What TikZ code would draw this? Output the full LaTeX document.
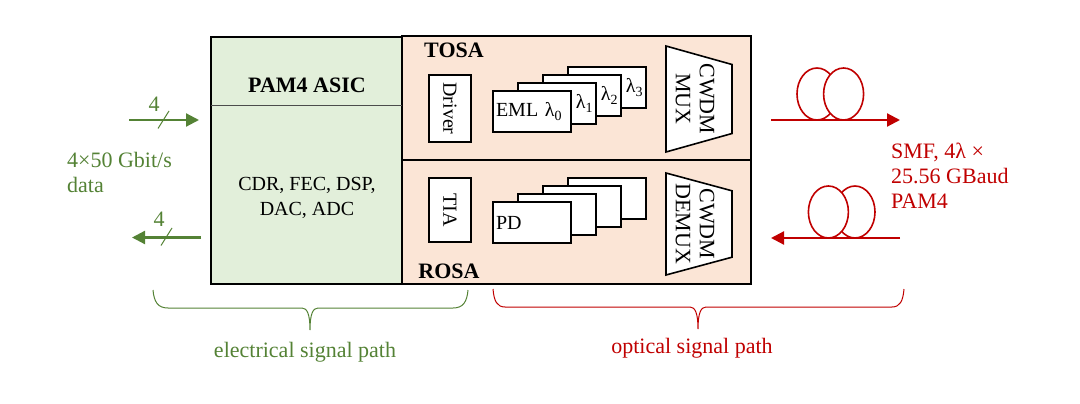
\documentclass[tikz,border=0pt]{standalone}
\usepackage{fontspec}
\setmainfont{Liberation Serif}
\usepackage{tikz}
\usetikzlibrary{shapes,arrows.meta,positioning}

\definecolor{asicgreen}{HTML}{E2EFDA}
\definecolor{osapeach}{HTML}{FBE5D6}
\definecolor{elecgreen}{HTML}{548235}
\definecolor{optred}{HTML}{C00000}

\begin{document}
\begin{tikzpicture}[x=1pt, y=-1pt, font=\fontsize{20}{25}\selectfont, >={Triangle[length=13pt, width=13pt]}]

    % Define block styles
    \tikzstyle{osa} = [draw, line width=1.8pt, fill=osapeach, minimum width=349pt, minimum height=124pt, inner sep=0pt, outer sep=0pt]
    \tikzstyle{asic} = [draw, line width=2.6pt, fill=asicgreen, minimum width=191pt, minimum height=247pt, inner sep=0pt]
    \tikzstyle{drv} = [draw, line width=1.6pt, fill=white, minimum height=42pt, inner sep=0pt, rotate=-90]
    \tikzstyle{stack} = [draw, line width=1.6pt, fill=white, minimum width=78pt, minimum height=41pt, inner sep=0pt, text width=72pt]
    \tikzstyle{wdm} = [draw, line width=1.6pt, fill=white, trapezium, trapezium stretches=true, trapezium angle=75, minimum height=66pt, inner sep=2pt, rotate=-90]
    \tikzstyle{wdmtext} = [rotate=-90, align=center, inner sep=0pt, font=\fontsize{22}{24}\selectfont]
    \tikzstyle{fibre} = [draw=optred, line width=1.6pt, fill=white, ellipse, minimum width=40pt, minimum height=52pt, inner sep=0pt]
    \tikzstyle{elec} = [line width=2.2pt, draw=elecgreen]
    \tikzstyle{opt} = [line width=2.2pt, draw=optred]
    \tikzstyle{slash} = [line width=1pt, draw=elecgreen]
    \tikzstyle{elecbrace} = [line width=1pt, draw=elecgreen]
    \tikzstyle{optbrace} = [line width=1pt, draw=optred]
    \tikzstyle{bold} = [font=\fontsize{22}{25}\selectfont\bfseries]
    \tikzstyle{caption} = [font=\fontsize{22}{25}\selectfont]

    \useasboundingbox (0,0) rectangle (1080,404);

    % OSA blocks
    \node[osa] (tosa) at (576.5,98) {};
    \node[osa, below=0pt of tosa] (rosa) {};
    \node[bold] (tosalabel) at (454,50) {TOSA};
    \node[bold] (rosalabel) at (449,271) {ROSA};

    % ASIC
    \node[asic] (asicbox) at (306.5,160.5) {};
    \coordinate (divl) at (211,106);
    \coordinate (divr) at (402,106);
    \draw[line width=1pt, black!70] (divl) -- (divr);
    \node[bold] (asictitle) at (307,85) {PAM4 ASIC};
    \node[align=center] (asictext) at (307,198) {CDR, FEC, DSP,\\DAC, ADC};

    % Driver and TIA
    \node[drv, minimum width=67pt] (driver) at (450,108.5) {Driver};
    \node[drv, minimum width=64pt] (tia) at (450,210) {TIA};

    % EML stack
    \node[stack, align=right] (eml3) at (607,87.5) {λ\textsubscript{3}};
    \node[stack, align=right] (eml2) at ([shift={(-25,8)}]eml3) {λ\textsubscript{2}};
    \node[stack, align=right] (eml1) at ([shift={(-25,8)}]eml2) {λ\textsubscript{1}};
    \node[stack, align=left] (eml0) at ([shift={(-25,8)}]eml1) {\raisebox{-2pt}{EML λ\textsubscript{0}}};

    % PD stack
    \node[stack] (pd3) at (607,198.5) {};
    \node[stack] (pd2) at ([shift={(-25,8)}]pd3) {};
    \node[stack] (pd1) at ([shift={(-25,8)}]pd2) {};
    \node[stack, align=left] (pd0) at ([shift={(-25,8)}]pd1) {\raisebox{-2pt}{PD}};

    % CWDM
    \node[wdm, minimum width=106pt] (mux) at (699,99) {};
    \node[wdmtext] (muxlabel) at ([xshift=-4]mux.center) {CWDM\\MUX};
    \node[wdm, minimum width=102pt] (demux) at (699,224) {};
    \node[wdmtext] (demuxlabel) at ([xshift=-4]demux.center) {CWDM\\DEMUX};

    % Electrical side
    \coordinate (txin) at (129,120);
    \coordinate (txout) at (199,120);
    \coordinate (rxin) at (201,237.5);
    \coordinate (rxout) at (132,237.5);
    \draw[elec, ->] (txin) -- (txout);
    \draw[elec, ->] (rxin) -- (rxout);
    \draw[slash] (158,128.5) -- (169,111);
    \draw[slash] (161,245.5) -- (172,228);
    \node[caption, text=elecgreen] (txnum) at (154,104) {4};
    \node[caption, text=elecgreen] (rxnum) at (159,219) {4};
    \node[caption, text=elecgreen, align=left, anchor=west, inner sep=0pt] (datalabel) at (67,172) {4×50 Gbit/s\\data};

    % Optical side
    \coordinate (otxin) at (771,120);
    \coordinate (otxout) at (900,120);
    \coordinate (orxin) at (900,238);
    \coordinate (orxout) at (771,238);
    \node[fibre] (loop1) at (817,94) {};
    \node[fibre, right=-15pt of loop1] (loop2) {};
    \node[fibre] (loop4) at (855,212) {};
    \node[fibre, left=-15pt of loop4] (loop3) {};
    \draw[opt, ->] (otxin) -- (otxout);
    \draw[opt, ->] (orxin) -- (orxout);
    \node[caption, text=optred, align=left, anchor=west, inner sep=0pt] (smflabel) at (891,176) {SMF, 4λ ×\\25.56 GBaud\\PAM4};

    % Braces
    \draw[elecbrace] (153,290) .. controls (154,302) and (158,308) .. (168,308) -- (302,308) .. controls (307,308) and (310,314) .. (310,330) .. controls (310,314) and (313,308) .. (318,308) -- (453,308) .. controls (463,308) and (467,302) .. (468,290);
    \draw[optbrace] (493,289) .. controls (494,301) and (497,307) .. (505,307) -- (690,307) .. controls (695,307) and (698,313) .. (698,329) .. controls (698,313) and (701,307) .. (706,307) -- (892,307) .. controls (900,307) and (903,301) .. (904,289);
    \node[caption, text=elecgreen] (eleclabel) at (305,352) {electrical signal path};
    \node[caption, text=optred] (optlabel) at (692,348) {optical signal path};

\end{tikzpicture}
\end{document}
